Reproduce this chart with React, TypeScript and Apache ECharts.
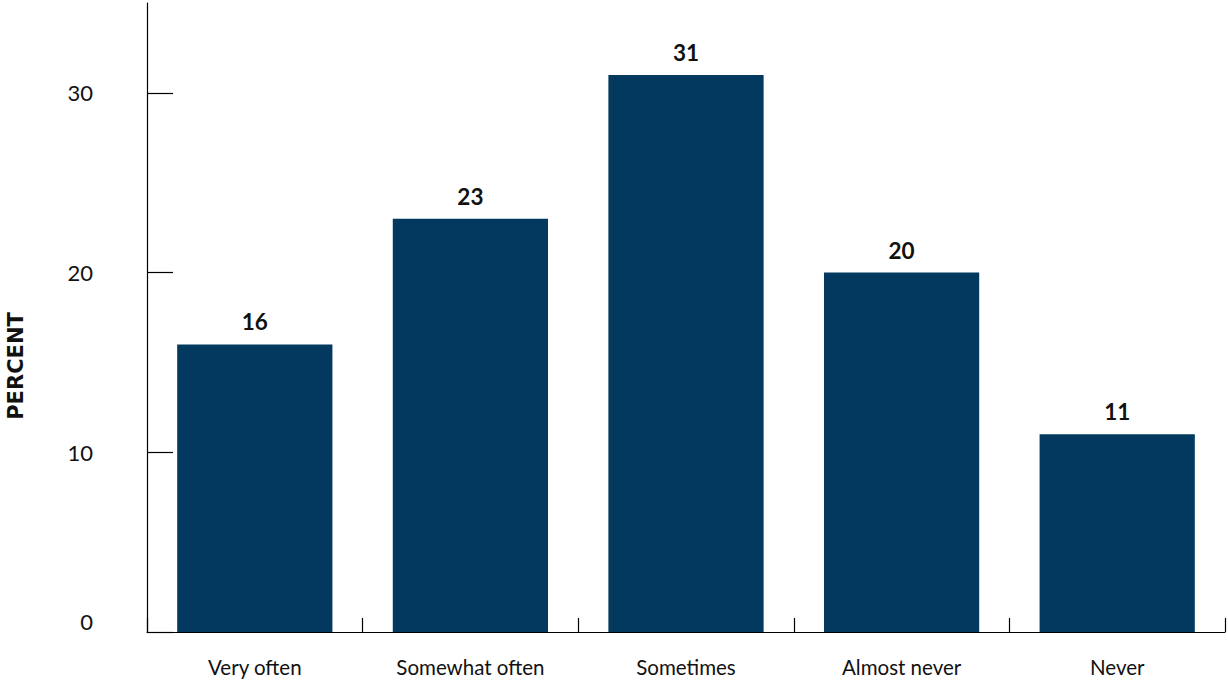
import React, { useEffect, useRef } from "react";
import * as echarts from "echarts";

const categories = ["Very often", "Somewhat often", "Sometimes", "Almost never", "Never"];
const values = [16, 23, 31, 20, 11];
const yTicks = [0, 10, 20, 30];
const yAxisTitle = "PERCENT";

export default function App() {
  const ref = useRef<HTMLDivElement>(null);
  useEffect(() => {
    if (!ref.current) return;
    const chart = echarts.init(ref.current, null, { renderer: "svg" });
    chart.setOption({
      animation: false,
      textStyle: { fontFamily: "Lato" },
      grid: { left: 147, right: 3, top: 3, bottom: 49, containLabel: false },
      xAxis: {
        type: "category",
        data: categories,
        axisLine: { lineStyle: { color: "#000", width: 1.2 } },
        axisTick: { show: true, inside: true, length: 14, alignWithLabel: false, lineStyle: { color: "#000", width: 1.2 } },
        axisLabel: { color: "#111", fontSize: 20.5, margin: 24, fontFamily: "Lato" },
      },
      yAxis: {
        type: "value",
        min: 0,
        max: 35,
        interval: 10,
        splitLine: { show: false },
        axisLine: { show: true, lineStyle: { color: "#000", width: 1.2 } },
        axisTick: { show: true, inside: true, length: 26, customValues: yTicks, lineStyle: { color: "#000", width: 1.2 } },
        axisLabel: {
          color: "#111",
          fontSize: 22,
          margin: 54,
          fontFamily: "Lato",
          customValues: yTicks,
          verticalAlignMinLabel: "bottom",
        },
      },
      graphic: [
        {
          type: "text",
          x: 16,
          y: 366,
          rotation: Math.PI / 2,
          style: {
            text: yAxisTitle,
            fontSize: 21,
            fontWeight: "bold",
            fontFamily: "DejaVu Sans",
            fill: "#111",
            align: "center",
            verticalAlign: "middle",
          },
        },
      ],
      series: [
        {
          type: "bar",
          data: values,
          barCategoryGap: "28%",
          itemStyle: { color: "#03395f" },
          label: {
            show: true,
            position: "top",
            distance: 11,
            color: "#111",
            fontSize: 22.5,
            fontWeight: "bold",
            fontFamily: "Lato",
          },
        },
      ],
    });
    return () => chart.dispose();
  }, []);
  return <div ref={ref} style={{ width: 1228, height: 681, position: "absolute", left: 0, top: 0 }} />;
}
